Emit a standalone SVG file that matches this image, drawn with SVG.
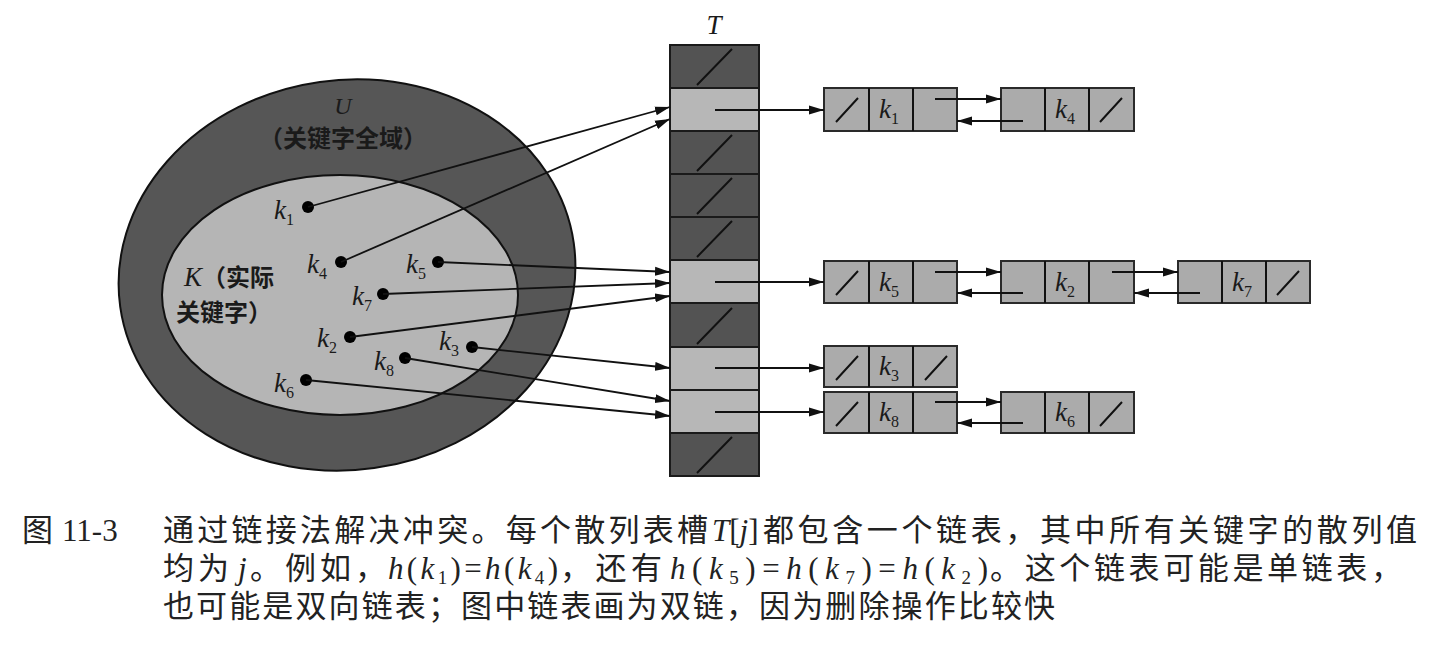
<svg xmlns="http://www.w3.org/2000/svg" width="1440" height="648" viewBox="0 0 1440 648">
<defs>
<marker id="arr" markerUnits="userSpaceOnUse" markerWidth="16" markerHeight="10" refX="15" refY="5" orient="auto">
<path d="M0,0.5 L15,5 L0,9.5 z" fill="#111"/>
</marker>
<style>
.dark{fill:#535353;stroke:#1a1a1a;stroke-width:2}
.light{fill:#b7b7b7;stroke:#1a1a1a;stroke-width:2}
.cell{fill:#ababab;stroke:#2a2a2a;stroke-width:2}
.slash{stroke:#111;stroke-width:2;fill:none}
.conn{stroke:#111;stroke-width:1.8;fill:none;marker-end:url(#arr)}
.dot{fill:#000}
.k{font-family:"Liberation Serif",serif;font-style:italic;font-size:27px;fill:#1a1a1a}
.sub{font-size:16px;font-style:normal}
.lbl{font-family:"Liberation Serif","Noto Sans CJK SC",sans-serif;font-size:24px;fill:#1a1a1a}
.cap{font-family:"Liberation Serif","Noto Sans CJK SC",serif;font-size:31px;fill:#222}
.mi{font-style:italic}
.capsub{font-size:19px}
</style>
</defs>
<rect width="1440" height="648" fill="#fff"/>

<g id="universe">
<ellipse cx="347" cy="275" rx="229" ry="195" transform="rotate(-8 347 275)" fill="#565656" stroke="#111" stroke-width="2"/>
<text class="lbl" x="343" y="114" font-style="italic" text-anchor="middle" font-size="24">U</text>
<text class="lbl" x="343" y="147" text-anchor="middle" font-weight="bold" font-family="Noto Sans CJK SC,sans-serif">（关键字全域）</text>
</g>
<g id="actual-keys">
<ellipse cx="340" cy="295" rx="178" ry="120" fill="#b5b5b5" stroke="#111" stroke-width="2"/>
<text class="lbl" x="184" y="286" font-weight="bold"><tspan font-style="italic" font-weight="normal" font-size="27" font-family="Liberation Serif,serif">K</tspan><tspan font-family="Noto Sans CJK SC,sans-serif">（实际</tspan></text>
<text class="lbl" x="176" y="321" font-weight="bold" font-family="Noto Sans CJK SC,sans-serif">关键字）</text>
</g>

<g id="keys">
<g id="key-k1"><circle class="dot" cx="308" cy="207" r="6"/><text class="k" x="274" y="219">k<tspan class="sub" dy="6">1</tspan></text></g>
<g id="key-k4"><circle class="dot" cx="341" cy="262" r="6"/><text class="k" x="307" y="273">k<tspan class="sub" dy="6">4</tspan></text></g>
<g id="key-k5"><circle class="dot" cx="438" cy="262" r="6"/><text class="k" x="406" y="273">k<tspan class="sub" dy="6">5</tspan></text></g>
<g id="key-k7"><circle class="dot" cx="383" cy="294" r="6"/><text class="k" x="352" y="305">k<tspan class="sub" dy="6">7</tspan></text></g>
<g id="key-k2"><circle class="dot" cx="350" cy="337" r="6"/><text class="k" x="317" y="347">k<tspan class="sub" dy="6">2</tspan></text></g>
<g id="key-k3"><circle class="dot" cx="472" cy="347" r="6"/><text class="k" x="439" y="350">k<tspan class="sub" dy="6">3</tspan></text></g>
<g id="key-k8"><circle class="dot" cx="405" cy="358" r="6"/><text class="k" x="374" y="370">k<tspan class="sub" dy="6">8</tspan></text></g>
<g id="key-k6"><circle class="dot" cx="306" cy="380" r="6"/><text class="k" x="274" y="392">k<tspan class="sub" dy="6">6</tspan></text></g>
</g>

<g id="table-T">
<text class="k" x="714" y="34" text-anchor="middle" font-size="24">T</text>
<rect class="dark" x="670" y="45" width="89" height="43"/>
<rect class="light" x="670" y="88" width="89" height="43"/>
<rect class="dark" x="670" y="131" width="89" height="43"/>
<rect class="dark" x="670" y="174" width="89" height="43"/>
<rect class="dark" x="670" y="217" width="89" height="43"/>
<rect class="light" x="670" y="260" width="89" height="43"/>
<rect class="dark" x="670" y="303" width="89" height="44"/>
<rect class="light" x="670" y="347" width="89" height="43"/>
<rect class="light" x="670" y="390" width="89" height="43"/>
<rect class="dark" x="670" y="433" width="89" height="43"/>
<path class="slash" d="M697,85 L732,49 M697,171 L732,135 M697,214 L732,178 M697,257 L732,221 M697,344 L732,308 M697,473 L732,437"/>
</g>

<g id="list-row1">
<g id="node-k1">
<rect class="cell" x="824" y="88" width="133" height="43"/>
<path class="slash" d="M869,88 V131 M913,88 V131 M836,122 L858,98"/>
<text class="k" x="879" y="118">k<tspan class="sub" dy="6">1</tspan></text>
</g>
<g id="node-k4">
<rect class="cell" x="1001" y="88" width="133" height="43"/>
<path class="slash" d="M1045,88 V131 M1089,88 V131 M1100,122 L1122,98"/>
<text class="k" x="1055" y="118">k<tspan class="sub" dy="6">4</tspan></text>
</g>
</g>

<g id="list-row5">
<g id="node-k5">
<rect class="cell" x="824" y="261" width="133" height="42"/>
<path class="slash" d="M869,261 V303 M913,261 V303 M836,295 L858,271"/>
<text class="k" x="879" y="291">k<tspan class="sub" dy="6">5</tspan></text>
</g>
<g id="node-k2">
<rect class="cell" x="1001" y="261" width="133" height="42"/>
<path class="slash" d="M1045,261 V303 M1089,261 V303"/>
<text class="k" x="1055" y="291">k<tspan class="sub" dy="6">2</tspan></text>
</g>
<g id="node-k7">
<rect class="cell" x="1178" y="261" width="132" height="42"/>
<path class="slash" d="M1222,261 V303 M1266,261 V303 M1277,295 L1299,271"/>
<text class="k" x="1232" y="291">k<tspan class="sub" dy="6">7</tspan></text>
</g>
</g>

<g id="list-row7">
<g id="node-k3">
<rect class="cell" x="824" y="346" width="133" height="41"/>
<path class="slash" d="M869,346 V387 M913,346 V387 M836,380 L858,356 M925,380 L947,356"/>
<text class="k" x="879" y="375">k<tspan class="sub" dy="6">3</tspan></text>
</g>
</g>

<g id="list-row8">
<g id="node-k8">
<rect class="cell" x="824" y="392" width="133" height="41"/>
<path class="slash" d="M869,392 V433 M913,392 V433 M836,426 L858,402"/>
<text class="k" x="879" y="421">k<tspan class="sub" dy="6">8</tspan></text>
</g>
<g id="node-k6">
<rect class="cell" x="1001" y="392" width="133" height="41"/>
<path class="slash" d="M1045,392 V433 M1089,392 V433 M1100,426 L1122,402"/>
<text class="k" x="1055" y="421">k<tspan class="sub" dy="6">6</tspan></text>
</g>
</g>

<g id="connectors">
<line class="conn" x1="308" y1="207" x2="670" y2="107"/>
<line class="conn" x1="341" y1="262" x2="670" y2="119"/>
<line class="conn" x1="438" y1="262" x2="670" y2="272"/>
<line class="conn" x1="383" y1="294" x2="670" y2="283"/>
<line class="conn" x1="350" y1="337" x2="670" y2="296"/>
<line class="conn" x1="472" y1="347" x2="670" y2="368"/>
<line class="conn" x1="405" y1="358" x2="670" y2="401"/>
<line class="conn" x1="306" y1="380" x2="670" y2="416"/>
<line class="conn" x1="715" y1="110" x2="824" y2="110"/>
<line class="conn" x1="715" y1="282" x2="824" y2="282"/>
<line class="conn" x1="715" y1="368" x2="824" y2="368"/>
<line class="conn" x1="715" y1="412" x2="824" y2="412"/>
<line class="conn" x1="935" y1="99" x2="1001" y2="99"/>
<line class="conn" x1="1023" y1="121" x2="957" y2="121"/>
<line class="conn" x1="935" y1="272" x2="1001" y2="272"/>
<line class="conn" x1="1023" y1="293" x2="957" y2="293"/>
<line class="conn" x1="1112" y1="272" x2="1178" y2="272"/>
<line class="conn" x1="1200" y1="293" x2="1134" y2="293"/>
<line class="conn" x1="935" y1="402" x2="1001" y2="402"/>
<line class="conn" x1="1023" y1="423" x2="957" y2="423"/>
</g>

<g id="caption">
<text class="cap" x="22" y="541" font-family="Noto Sans CJK SC,sans-serif">图</text>
<text class="cap" x="62" y="541">11-3</text>
<text class="cap" x="163" y="541" textLength="545" lengthAdjust="spacing" font-family="Noto Sans CJK SC,sans-serif">通过链接法解决冲突。每个散列表槽</text>
<text class="cap" x="712" y="541"><tspan class="mi">T</tspan>[<tspan class="mi">j</tspan>]</text>
<text class="cap" x="763" y="541" textLength="654" lengthAdjust="spacing" font-family="Noto Sans CJK SC,sans-serif">都包含一个链表，其中所有关键字的散列值</text>

<text class="cap" x="163" y="579" textLength="66" lengthAdjust="spacing" font-family="Noto Sans CJK SC,sans-serif">均为</text>
<text class="cap mi" x="238" y="579">j</text>
<text class="cap" x="250" y="579" textLength="136" lengthAdjust="spacing" font-family="Noto Sans CJK SC,sans-serif">。例如，</text>
<text class="cap" x="388" y="579" textLength="170" lengthAdjust="spacing"><tspan class="mi">h</tspan>(<tspan class="mi">k</tspan><tspan class="capsub" dy="5">1</tspan><tspan dy="-5">)=</tspan><tspan class="mi">h</tspan>(<tspan class="mi">k</tspan><tspan class="capsub" dy="5">4</tspan><tspan dy="-5">)</tspan></text>
<text class="cap" x="560" y="579" textLength="102" lengthAdjust="spacing" font-family="Noto Sans CJK SC,sans-serif">，还有</text>
<text class="cap" x="670" y="579" textLength="318" lengthAdjust="spacing"><tspan class="mi">h</tspan>(<tspan class="mi">k</tspan><tspan class="capsub" dy="5">5</tspan><tspan dy="-5">)=</tspan><tspan class="mi">h</tspan>(<tspan class="mi">k</tspan><tspan class="capsub" dy="5">7</tspan><tspan dy="-5">)=</tspan><tspan class="mi">h</tspan>(<tspan class="mi">k</tspan><tspan class="capsub" dy="5">2</tspan><tspan dy="-5">)</tspan></text>
<text class="cap" x="990" y="579" textLength="412" lengthAdjust="spacing" font-family="Noto Sans CJK SC,sans-serif">。这个链表可能是单链表，</text>

<text class="cap" x="163" y="617" textLength="892" lengthAdjust="spacing" font-family="Noto Sans CJK SC,sans-serif">也可能是双向链表；图中链表画为双链，因为删除操作比较快</text>
</g>
</svg>
